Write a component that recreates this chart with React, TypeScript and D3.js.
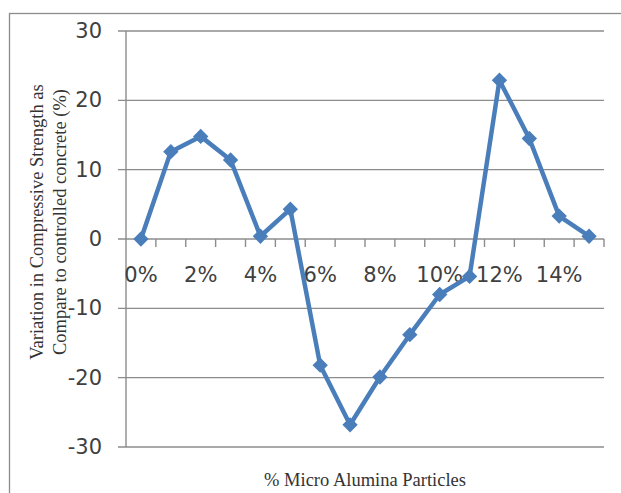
import React, { useRef, useEffect } from "react";
import * as d3 from "d3";

const categories = ["0%", "1%", "2%", "3%", "4%", "5%", "6%", "7%", "8%", "9%", "10%", "11%", "12%", "13%", "14%", "15%"];
const values = [0, 12.6, 14.8, 11.4, 0.4, 4.3, -18.2, -26.8, -19.9, -13.8, -8.0, -5.4, 22.9, 14.5, 3.3, 0.4];
const yTicks = [-30, -20, -10, 0, 10, 20, 30];
const yTitle = ["Variation in Compressive Strength as", "Compare to controlled concrete (%)"];
const xTitle = "% Micro Alumina Particles";

export default function App() {
  const svgRef = useRef<SVGSVGElement>(null);
  const width = 621;
  const height = 493;

  useEffect(() => {
    const svg = d3.select(svgRef.current);
    svg.selectAll("*").remove();

    const left = 126, right = 604, top = 31, bottom = 447;
    const lineColor = "#4A7EBB";
    const gridColor = "#8C8C8C";
    const labelFont = "'DejaVu Sans', sans-serif";

    // chart border
    svg.append("rect")
      .attr("x", 9.5).attr("y", 13.5)
      .attr("width", 640).attr("height", 520)
      .attr("fill", "none").attr("stroke", "#8C8C8C").attr("stroke-width", 1.3);

    const x = d3.scaleBand().domain(categories).range([left, right]);
    const y = d3.scaleLinear().domain([-30, 30]).range([bottom, top]);

    // gridlines + y ticks
    svg.append("g").selectAll("line")
      .data(yTicks).enter().append("line")
      .attr("x1", left - 8).attr("x2", right)
      .attr("y1", (d) => y(d)).attr("y2", (d) => y(d))
      .attr("stroke", gridColor).attr("stroke-width", 1.4);

    svg.append("g").selectAll("text")
      .data(yTicks).enter().append("text")
      .attr("x", left - 24).attr("y", (d) => y(d) + 7)
      .attr("text-anchor", "end")
      .style("font-family", labelFont).style("font-size", "21px")
      .attr("fill", "#404040")
      .text((d) => d);

    // vertical axis line
    svg.append("line")
      .attr("x1", left).attr("x2", left).attr("y1", top).attr("y2", bottom)
      .attr("stroke", gridColor).attr("stroke-width", 1.4);

    // category axis at zero
    const y0 = y(0);
    const tickPos = categories.map((c) => (x(c) as number) + x.bandwidth());
    svg.append("g").selectAll("line")
      .data(tickPos).enter().append("line")
      .attr("x1", (d) => d).attr("x2", (d) => d)
      .attr("y1", y0).attr("y2", y0 + 8)
      .attr("stroke", gridColor).attr("stroke-width", 1.4);

    svg.append("g").selectAll("text")
      .data(categories.filter((_, i) => i % 2 === 0)).enter().append("text")
      .attr("x", (d) => (x(d) as number) + x.bandwidth() / 2)
      .attr("y", y0 + 43)
      .attr("text-anchor", "middle")
      .style("font-family", labelFont).style("font-size", "21px")
      .attr("fill", "#404040")
      .text((d) => d);

    // line series
    const line = d3.line<number>()
      .x((_, i) => (x(categories[i]) as number) + x.bandwidth() / 2)
      .y((d) => y(d));

    svg.append("path")
      .datum(values)
      .attr("fill", "none")
      .attr("stroke", lineColor)
      .attr("stroke-width", 4.5)
      .attr("stroke-linejoin", "round")
      .attr("d", line);

    const diamond = d3.symbol().type(d3.symbolDiamond2).size(150);
    svg.append("g").selectAll("path")
      .data(values).enter().append("path")
      .attr("d", diamond)
      .attr("transform", (d, i) => `translate(${(x(categories[i]) as number) + x.bandwidth() / 2},${y(d)})`)
      .attr("fill", lineColor);

    // axis titles
    const yt = svg.append("text")
      .attr("transform", `translate(43, 222) rotate(-90)`)
      .attr("text-anchor", "middle")
      .style("font-family", "'Liberation Serif', serif").style("font-size", "18.5px")
      .attr("fill", "#333");
    yTitle.forEach((t, i) => {
      yt.append("tspan").attr("x", 0).attr("dy", i === 0 ? 0 : 23).text(t);
    });

    svg.append("text")
      .attr("x", 365).attr("y", 486)
      .attr("text-anchor", "middle")
      .style("font-family", "'Liberation Serif', serif").style("font-size", "18.5px")
      .attr("fill", "#333")
      .text(xTitle);
  }, []);

  return (
    <svg
      ref={svgRef}
      width={width}
      height={height}
      style={{ position: "absolute", left: 0, top: 0, background: "#fff" }}
    ></svg>
  );
}
